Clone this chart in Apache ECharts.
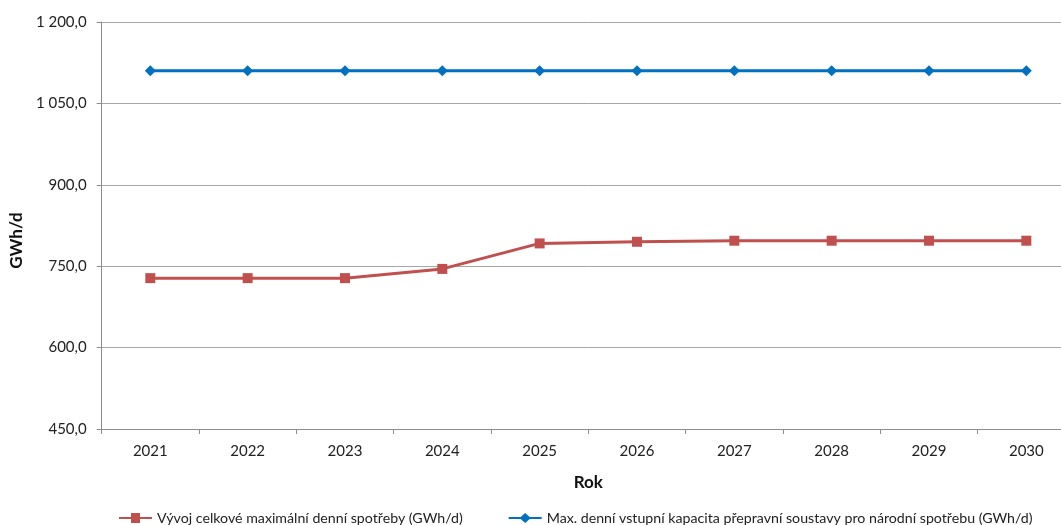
<!DOCTYPE html>
<html>
<head>
<meta charset="utf-8">
<script src="https://cdn.jsdelivr.net/npm/echarts@6/dist/echarts.min.js"></script>
<style>
  html, body { margin: 0; padding: 0; background: #fff; overflow: hidden; }
  #wrap { width: 1061px; height: 525px; overflow: hidden; }
  /* the plot runs on past the right edge of the frame */
  #chart { width: 1075px; height: 525px; }
</style>
</head>
<body>
<div id="wrap"><div id="chart"></div></div>
<script>
const years = ['2021', '2022', '2023', '2024', '2025', '2026', '2027', '2028', '2029', '2030'];
const consumption = [728, 728, 728, 745, 792, 795, 797, 797, 797, 797];
const capacity = [1110, 1110, 1110, 1110, 1110, 1110, 1110, 1110, 1110, 1110];
const consumptionName = 'Vývoj celkové maximální denní spotřeby (GWh/d)';
const capacityName = 'Max. denní vstupní kapacita přepravní soustavy pro národní spotřebu (GWh/d)';

const FONT = 'Lato, "Open Sans", sans-serif';

function fmt(v) {
  const s = v.toFixed(1).replace('.', ',');
  const [intPart, dec] = s.split(',');
  return intPart.replace(/\B(?=(\d{3})+(?!\d))/g, ' ') + ',' + dec;
}

const chart = echarts.init(document.getElementById('chart'), null, { renderer: 'canvas' });
chart.setOption({
  animation: false,
  backgroundColor: '#fff',
  textStyle: { fontFamily: FONT },
  grid: { left: 96, right: 0, top: 22, bottom: 96, containLabel: false },
  legend: {
    top: 506,
    left: 114,
    itemGap: 46,
    itemWidth: 33,
    itemHeight: 10,
    textStyle: { fontFamily: FONT, fontSize: 14.2, color: '#222' },
    data: [
      { name: consumptionName, icon: 'path://M0,4L12,4L12,0L21,0L21,4L33,4L33,6L21,6L21,10L12,10L12,6L0,6Z' },
      { name: capacityName, icon: 'path://M0,4L12,4L16.5,0L21,4L33,4L33,6L21,6L16.5,10L12,6L0,6Z' }
    ]
  },
  xAxis: {
    type: 'category',
    data: years,
    boundaryGap: true,
    name: 'Rok',
    nameLocation: 'middle',
    nameGap: 45,
    nameTextStyle: { fontFamily: FONT, fontSize: 17, fontWeight: 'bold', color: '#111' },
    axisLine: { lineStyle: { color: '#8c8c8c', width: 1 } },
    axisTick: { show: true, alignWithLabel: false, length: 5, lineStyle: { color: '#8c8c8c' } },
    axisLabel: { fontFamily: FONT, fontSize: 15, color: '#222', margin: 15 },
    splitLine: { show: false }
  },
  yAxis: {
    type: 'value',
    min: 450,
    max: 1200,
    interval: 150,
    name: 'GWh/d',
    nameLocation: 'middle',
    nameGap: 72,
    nameRotate: 90,
    nameTextStyle: { fontFamily: FONT, fontSize: 17, fontWeight: 'bold', color: '#111', padding: [0, 0, 0, -30] },
    axisLine: { show: true, lineStyle: { color: '#8c8c8c', width: 1 } },
    axisTick: { show: true, length: 5, lineStyle: { color: '#8c8c8c' } },
    axisLabel: { fontFamily: FONT, fontSize: 15, color: '#222', margin: 15, formatter: fmt },
    splitLine: { show: true, lineStyle: { color: '#a6a6a6', width: 1 } }
  },
  series: [
    {
      name: consumptionName,
      type: 'line',
      data: consumption,
      symbol: 'rect',
      symbolSize: 10,
      lineStyle: { color: '#C0504D', width: 3 },
      itemStyle: { color: '#C0504D' },
      z: 3
    },
    {
      name: capacityName,
      type: 'line',
      data: capacity,
      symbol: 'diamond',
      symbolSize: 11,
      lineStyle: { color: '#0070C0', width: 3 },
      itemStyle: { color: '#0070C0' },
      z: 3
    }
  ]
});
</script>
</body>
</html>
